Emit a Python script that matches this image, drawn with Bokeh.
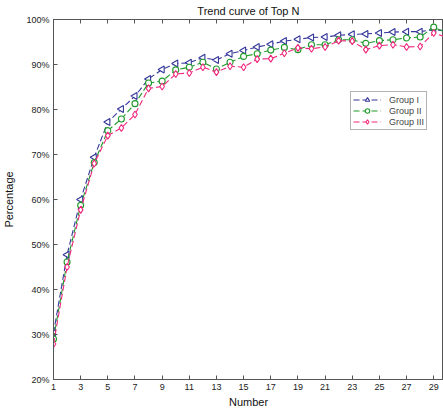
import math
from bokeh.plotting import figure
from bokeh.models import Range1d, LinearAxis, FixedTicker, Title, Legend, LegendItem, CustomJSTickFormatter
from bokeh.embed import file_html
from bokeh.resources import INLINE

x = list(range(1, 31))
group1 = [30.3, 47.7, 60.0, 69.4, 77.2, 80.1, 83.0, 86.8, 88.9, 90.2, 90.4, 91.5, 91.0, 92.4, 93.1,
          93.9, 94.5, 95.2, 95.6, 96.0, 96.1, 96.5, 96.7, 96.8, 97.0, 97.2, 97.3, 97.3, 97.8, 97.4]
group2 = [29.0, 46.1, 58.7, 68.2, 75.3, 77.9, 81.3, 85.9, 86.3, 88.8, 89.4, 90.5, 89.0, 90.5, 91.8,
          92.4, 93.2, 93.8, 93.3, 94.4, 94.4, 95.5, 95.5, 94.7, 95.3, 95.5, 95.9, 96.1, 98.3, 97.0]
group3 = [27.9, 45.0, 57.7, 68.0, 74.2, 75.9, 78.9, 84.7, 85.1, 87.9, 88.1, 89.4, 88.3, 89.6, 89.4,
          91.2, 91.3, 92.5, 93.7, 93.5, 93.9, 95.3, 95.2, 93.3, 94.2, 94.4, 93.9, 94.0, 97.0, 96.0]
names = ["Group I", "Group II", "Group III"]
x_ticks = list(range(1, 30, 2))
y_ticks = list(range(20, 101, 10))

FONT = "Liberation Sans"
AXC = "#555555"

p = figure(width=443, height=412, output_backend="svg", toolbar_location=None,
           x_range=Range1d(1, 29.72), y_range=Range1d(20, 100),
           min_border_left=51, min_border_top=19, min_border_bottom=33, min_border_right=0)
p.xgrid.visible = False
p.ygrid.visible = False
p.outline_line_color = AXC
p.background_fill_color = "white"
p.border_fill_color = "white"

p.title = Title(text="Trend curve of Top N", align="center", text_font=FONT,
                text_font_size="11px", text_font_style="normal", text_color="#111111",
                standoff=5, offset=0)

for ax in (p.xaxis[0], p.yaxis[0]):
    ax.axis_line_color = AXC
    ax.major_tick_line_color = AXC
    ax.major_tick_in = 4
    ax.major_tick_out = 0
    ax.minor_tick_line_color = None
    ax.major_label_text_font = FONT
    ax.major_label_text_font_size = "9px"
    ax.major_label_text_color = "#222222"
    ax.axis_label_text_font = FONT
    ax.axis_label_text_font_size = "11px"
    ax.axis_label_text_font_style = "normal"
    ax.axis_label_text_color = "#111111"

p.xaxis.ticker = FixedTicker(ticks=x_ticks)
p.yaxis.ticker = FixedTicker(ticks=y_ticks)
p.yaxis.formatter = CustomJSTickFormatter(code="return tick + '%';")
p.xaxis.axis_label = "Number"
p.yaxis.axis_label = "Percentage"
p.xaxis.major_label_standoff = 4
p.xaxis.axis_label_standoff = 3
p.yaxis.major_label_standoff = 4
p.yaxis.axis_label_standoff = 8

top = LinearAxis(ticker=FixedTicker(ticks=x_ticks), axis_line_color=AXC,
                 major_tick_line_color=AXC, major_tick_in=4, major_tick_out=0,
                 minor_tick_line_color=None,
                 formatter=CustomJSTickFormatter(code="return '';"),
                 major_label_standoff=0)
p.add_layout(top, "above")

colors = ["#35379a", "#1f9a2a", "#f0287d"]
markers = ["triangle", "circle", "diamond"]
angles = [math.pi / 2, 0, 0]
sizes = [7, 6, 7]
items = []
for ys, c, m, a, s, n in zip([group1, group2, group3], colors, markers, angles, sizes, names):
    ln = p.line(x, ys, line_color=c, line_width=1.1, line_dash="6 3")
    sc = p.scatter(x, ys, marker=m, angle=a, size=s, line_color=c, fill_color="white", line_width=1.1)
    items.append(LegendItem(label=n, renderers=[ln, sc]))

legend = Legend(items=items, location=(297, 249), padding=2, spacing=0, margin=0,
                glyph_width=28, glyph_height=11, label_height=11, label_standoff=8,
                label_text_font=FONT, label_text_font_size="9px",
                border_line_color="#666666", background_fill_color="white")
p.add_layout(legend, "center")

open("out.html", "w").write(file_html(p, INLINE))
